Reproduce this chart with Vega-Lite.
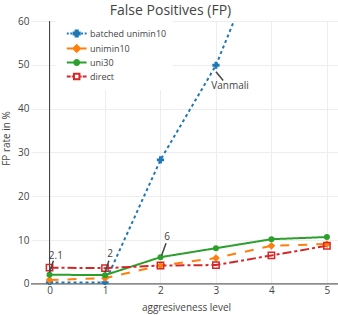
{
  "$schema": "https://vega.github.io/schema/vega-lite/v6.json",
  "autosize": {"type": "none"},
  "padding": {"left": 31, "top": 21, "right": 0, "bottom": 30},
  "width": 307,
  "height": 264,
  "background": "white",
  "title": {"text": "False Positives (FP)", "anchor": "middle", "frame": "group", "dx": -14, "offset": -13, "baseline": "alphabetic", "fontSize": 14, "font": "Open Sans", "fontWeight": "normal", "color": "#444"},
  "config": {
    "view": {"stroke": null},
    "font": "Open Sans",
    "axis": {"domain": false, "ticks": false, "tickSize": 0, "gridColor": "#eee", "gridWidth": 1, "labelFont": "Open Sans", "labelFontSize": 10, "labelColor": "#444", "titleFont": "Open Sans", "titleFontSize": 10, "titleFontWeight": "normal", "titleColor": "#444"}
  },
  "datasets": {
    "pts": [
      {"series": "batched unimin10", "level": 0, "fp": 0.3},
      {"series": "batched unimin10", "level": 1, "fp": 0.3},
      {"series": "batched unimin10", "level": 2, "fp": 28.3},
      {"series": "batched unimin10", "level": 3, "fp": 49.9},
      {"series": "batched unimin10", "level": 4, "fp": 81},
      {"series": "batched unimin10", "level": 5, "fp": 95},
      {"series": "unimin10", "level": 0, "fp": 0.9},
      {"series": "unimin10", "level": 1, "fp": 1.3},
      {"series": "unimin10", "level": 2, "fp": 4.2},
      {"series": "unimin10", "level": 3, "fp": 5.9},
      {"series": "unimin10", "level": 4, "fp": 8.7},
      {"series": "unimin10", "level": 5, "fp": 9.1},
      {"series": "uni30", "level": 0, "fp": 2.1},
      {"series": "uni30", "level": 1, "fp": 2.0},
      {"series": "uni30", "level": 2, "fp": 6.1},
      {"series": "uni30", "level": 3, "fp": 8.15},
      {"series": "uni30", "level": 4, "fp": 10.2},
      {"series": "uni30", "level": 5, "fp": 10.7},
      {"series": "direct", "level": 0, "fp": 3.7},
      {"series": "direct", "level": 1, "fp": 3.6},
      {"series": "direct", "level": 2, "fp": 4.2},
      {"series": "direct", "level": 3, "fp": 4.3},
      {"series": "direct", "level": 4, "fp": 6.5},
      {"series": "direct", "level": 5, "fp": 8.7}
    ],
    "ann": [
      {"label": "2.1", "px": 0.0, "py": 2.6, "qx": 0.07, "qy": 5.3, "tx": 0.114, "ty": 6.4},
      {"label": "2", "px": 1.0, "py": 2.6, "qx": 1.07, "qy": 5.3, "tx": 1.09, "ty": 6.85},
      {"label": "6", "px": 2.02, "py": 6.5, "qx": 2.10, "qy": 9.3, "tx": 2.12, "ty": 10.65},
      {"label": "Vanmali", "px": 3.0, "py": 48.4, "qx": 3.13, "qy": 46.4, "tx": 3.255, "ty": 45.2}
    ],
    "zero": [{"z": 0}]
  },
  "layer": [
    {
      "data": {"name": "zero"},
      "mark": {"type": "rule", "color": "#444", "strokeWidth": 1},
      "encoding": {
        "x": {"field": "z", "type": "quantitative",
          "scale": {"domain": [-0.334, 5.2], "nice": false, "zero": false},
          "axis": {"values": [0, 1, 2, 3, 4, 5], "format": "d", "grid": true, "labelPadding": 0, "title": "aggresiveness level", "titleX": 155, "titleY": 25, "titleAlign": "center", "titleBaseline": "alphabetic"}}
      }
    },
    {
      "data": {"name": "zero"},
      "mark": {"type": "rule", "color": "#444", "strokeWidth": 1},
      "encoding": {
        "y": {"field": "z", "type": "quantitative",
          "scale": {"domain": [-0.25, 60], "nice": false, "zero": false},
          "axis": {"values": [0, 10, 20, 30, 40, 50, 60], "format": "d", "grid": true, "labelPadding": 2, "title": "FP rate in %", "titleX": -22, "titleY": 117, "titleAngle": 270, "titleAlign": "center", "titleBaseline": "alphabetic"}}
      }
    },
    {
      "data": {"name": "pts"},
      "mark": {"type": "line", "clip": true, "strokeWidth": 2},
      "encoding": {
        "x": {"field": "level", "type": "quantitative"},
        "y": {"field": "fp", "type": "quantitative"},
        "color": {"field": "series", "type": "nominal", "legend": null,
          "scale": {"domain": ["direct", "uni30", "unimin10", "batched unimin10"], "range": ["#d62728", "#2ca02c", "#ff7f0e", "#1f77b4"]}},
        "strokeDash": {"field": "series", "type": "nominal", "legend": null,
          "scale": {"domain": ["direct", "uni30", "unimin10", "batched unimin10"], "range": [[9, 3, 3, 3], [1, 0], [9, 9], [3, 3]]}}
      }
    },
    {
      "data": {"name": "pts"},
      "transform": [{"filter": "datum.series === 'batched unimin10'"}],
      "mark": {"type": "point", "clip": true, "shape": "cross", "filled": true, "size": 52, "color": "#1f77b4", "opacity": 1},
      "encoding": {"x": {"field": "level", "type": "quantitative"}, "y": {"field": "fp", "type": "quantitative"}}
    },
    {
      "data": {"name": "pts"},
      "transform": [{"filter": "datum.series === 'unimin10'"}],
      "mark": {"type": "point", "clip": true, "shape": "diamond", "filled": true, "size": 60, "color": "#ff7f0e", "opacity": 1},
      "encoding": {"x": {"field": "level", "type": "quantitative"}, "y": {"field": "fp", "type": "quantitative"}}
    },
    {
      "data": {"name": "pts"},
      "transform": [{"filter": "datum.series === 'uni30'"}],
      "mark": {"type": "point", "clip": true, "shape": "circle", "filled": true, "size": 36, "color": "#2ca02c", "opacity": 1},
      "encoding": {"x": {"field": "level", "type": "quantitative"}, "y": {"field": "fp", "type": "quantitative"}}
    },
    {
      "data": {"name": "pts"},
      "transform": [{"filter": "datum.series === 'direct'"}],
      "mark": {"type": "point", "clip": true, "shape": "square", "filled": false, "size": 40, "color": "#d62728", "strokeWidth": 1.5, "opacity": 1},
      "encoding": {"x": {"field": "level", "type": "quantitative"}, "y": {"field": "fp", "type": "quantitative"}}
    },
    {
      "data": {"name": "pts"},
      "mark": {"type": "point", "clip": true, "filled": true, "size": 121},
      "encoding": {
        "x": {"field": "level", "type": "quantitative"},
        "y": {"field": "fp", "type": "quantitative"},
        "opacity": {"value": 0},
        "shape": {"field": "series", "type": "nominal",
          "scale": {"domain": ["batched unimin10", "unimin10", "uni30", "direct"], "range": [
            "M-1.8,0H-1.45M-1.15,0H-0.8M0.8,0H1.15M1.45,0H1.8M-0.2,-0.55H0.2V-0.2H0.55V0.2H0.2V0.55H-0.2V0.2H-0.55V-0.2H-0.2Z",
            "M-1.8,0H1.8M0,-0.6L0.6,0L0,0.6L-0.6,0Z",
            "M-1.8,0H1.8M0.45,0A0.45,0.45,0,1,1,-0.45,0A0.45,0.45,0,1,1,0.45,0Z",
            "M-1.8,0H-1.1M-0.9,0H-0.7M0.7,0H0.9M1.1,0H1.8M-0.5,-0.5H0.5V0.5H-0.5Z"
          ]},
          "legend": {"title": null, "orient": "none", "legendX": 24.5, "legendY": 0, "padding": 6, "fillColor": "white", "symbolSize": 121, "symbolStrokeWidth": 2, "symbolOpacity": 1, "symbolOffset": 8.7, "symbolFillColor": "white", "symbolStrokeColor": "black", "labelFont": "Open Sans", "labelFontSize": 9, "labelColor": "#444", "labelOffset": 6.8, "rowPadding": 0}},
        "stroke": {"field": "series", "type": "nominal",
          "scale": {"domain": ["batched unimin10", "unimin10", "uni30", "direct"], "range": ["#1f77b4", "#ff7f0e", "#2ca02c", "#d62728"]},
          "legend": {"title": null, "orient": "none", "legendX": 24.5, "legendY": 0, "padding": 6, "fillColor": "white", "symbolSize": 121, "symbolStrokeWidth": 2, "symbolOpacity": 1, "symbolOffset": 8.7, "symbolFillColor": "white", "symbolStrokeColor": "black", "labelFont": "Open Sans", "labelFontSize": 9, "labelColor": "#444", "labelOffset": 6.8, "rowPadding": 0}},
        "fill": {"field": "series", "type": "nominal",
          "scale": {"domain": ["batched unimin10", "unimin10", "uni30", "direct"], "range": ["#1f77b4", "#ff7f0e", "#2ca02c", "#ffffff"]},
          "legend": {"title": null, "orient": "none", "legendX": 24.5, "legendY": 0, "padding": 6, "fillColor": "white", "symbolSize": 121, "symbolStrokeWidth": 2, "symbolOpacity": 1, "symbolOffset": 8.7, "symbolFillColor": "white", "symbolStrokeColor": "black", "labelFont": "Open Sans", "labelFontSize": 9, "labelColor": "#444", "labelOffset": 6.8, "rowPadding": 0}}
      }
    },
    {
      "data": {"name": "ann"},
      "mark": {"type": "rule", "color": "#444", "strokeWidth": 1.5},
      "encoding": {
        "x": {"field": "px", "type": "quantitative"},
        "y": {"field": "py", "type": "quantitative"},
        "x2": {"field": "qx"},
        "y2": {"field": "qy"}
      }
    },
    {
      "data": {"name": "ann"},
      "mark": {"type": "text", "font": "Open Sans", "fontSize": 10, "color": "#444", "align": "center", "baseline": "middle"},
      "encoding": {
        "x": {"field": "tx", "type": "quantitative"},
        "y": {"field": "ty", "type": "quantitative"},
        "text": {"field": "label", "type": "nominal"}
      }
    }
  ]
}
